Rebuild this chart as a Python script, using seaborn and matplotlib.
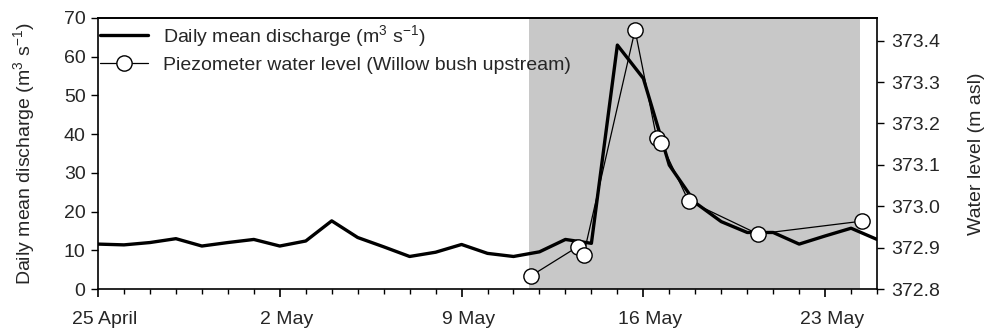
import numpy as np
import pandas as pd
import matplotlib
matplotlib.use("Agg")
import matplotlib.pyplot as plt
import matplotlib.dates as mdates
import matplotlib.transforms as mtransforms
import seaborn as sns

# ---- data ----
start_date = "2013-04-25"
discharge = [11.6, 11.4, 12.0, 13.0, 11.1, 12.0, 12.8, 11.1, 12.4, 17.6,
             13.3, 10.9, 8.4, 9.5, 11.5, 9.2, 8.4, 9.6, 12.8, 11.8,
             63.0, 54.4, 32.0, 22.3, 17.4, 14.6, 14.6, 11.6, 13.7, 15.7, 12.8]
piezo_times = ["2013-05-11 16:20", "2013-05-13 11:15", "2013-05-13 16:50",
               "2013-05-15 16:20", "2013-05-16 12:15", "2013-05-16 16:05",
               "2013-05-17 17:45", "2013-05-20 09:50", "2013-05-24 10:05"]
piezo_level = [372.832, 372.902, 372.883, 373.426, 373.165, 373.154,
               373.013, 372.933, 372.964]
tick_dates = ["2013-04-25", "2013-05-02", "2013-05-09", "2013-05-16", "2013-05-23"]
tick_labels = ["25 April", "2 May", "9 May", "16 May", "23 May"]
shade_span = ["2013-05-11 14:00", "2013-05-24 08:30"]
left_ticks = [0, 10, 20, 30, 40, 50, 60, 70]
right_ticks = [372.8, 372.9, 373.0, 373.1, 373.2, 373.3, 373.4]

dis_df = pd.DataFrame({"date": pd.date_range(start_date, periods=len(discharge), freq="D"),
                       "q": discharge})
pz_df = pd.DataFrame({"date": pd.to_datetime(piezo_times), "h": piezo_level})

sns.set_theme(style="ticks")
plt.rcParams["font.family"] = ["Liberation Sans", "DejaVu Sans"]
plt.rcParams["mathtext.fontset"] = "custom"
plt.rcParams["mathtext.rm"] = "Liberation Sans"
plt.rcParams["mathtext.it"] = "Liberation Sans"
plt.rcParams["mathtext.default"] = "regular"
FS = 14
plt.rcParams["font.size"] = FS

fig = plt.figure(figsize=(9.87, 3.35), dpi=100)
ax = fig.add_axes([0.0993, 0.1373, 0.7893, 0.809])
ax2 = ax.twinx()

ax.axvspan(pd.Timestamp(shade_span[0]), pd.Timestamp(shade_span[1]),
           color="#c8c8c8", lw=0, zorder=0)

sns.lineplot(data=dis_df, x="date", y="q", ax=ax, color="black", lw=2.4,
             label="Daily mean discharge (m$^3$ s$^{-1}$)", legend=False)
sns.lineplot(data=pz_df, x="date", y="h", ax=ax2, color="black", lw=0.9,
             marker="o", markersize=11, markerfacecolor="white",
             markeredgecolor="black", markeredgewidth=1.0,
             label="Piezometer water level (Willow bush upstream)", legend=False)

ax.set_xlim(pd.Timestamp("2013-04-25"), pd.Timestamp("2013-05-25"))
ax.set_ylim(0, 70)
ax2.set_ylim(372.8, 373.455)

ax.set_xticks(pd.to_datetime(tick_dates))
ax.set_xticklabels(tick_labels)
ax.xaxis.set_minor_locator(mdates.DayLocator())
ax.set_yticks(left_ticks)
ax2.set_yticks(right_ticks)
ax2.set_yticklabels([f"{v:.1f}" for v in right_ticks])

ax.set_xlabel("")
ax.set_ylabel("Daily mean discharge (m$^3$ s$^{-1}$)", fontsize=FS)
ax2.set_ylabel("Water level (m asl)", fontsize=FS)
ax.yaxis.set_label_coords(-0.078, 0.5)
ax2.yaxis.set_label_coords(1.117, 0.5)

for a in (ax, ax2):
    for s in a.spines.values():
        s.set_linewidth(1.2)
        s.set_color("black")
ax.spines["right"].set_visible(False)
ax2.spines["left"].set_visible(False)
ax2.spines["bottom"].set_visible(False)
ax2.spines["top"].set_visible(True)

ax.tick_params(axis="x", which="major", length=5.5, width=1.2, labelsize=FS,
               color="black", pad=10)
ax.tick_params(axis="x", which="minor", length=3.6, width=1.0, color="black")
ax.tick_params(axis="y", length=5, width=1.0, labelsize=FS, color="black", pad=4)
ax2.tick_params(axis="y", length=5, width=1.0, labelsize=FS, color="black", pad=5)

offset = mtransforms.ScaledTranslation(7 / 100, 0, fig.dpi_scale_trans)
for lab in ax.get_xticklabels():
    lab.set_transform(lab.get_transform() + offset)

h1, l1 = ax.get_legend_handles_labels()
h2, l2 = ax2.get_legend_handles_labels()
ax2.legend(h1 + h2, l1 + l2, loc="upper left", bbox_to_anchor=(-0.012, 1.024),
           frameon=False, fontsize=FS, handlelength=2.45, handletextpad=0.75,
           labelspacing=0.38, borderaxespad=0.2)

fig.savefig("out.png", dpi=100)
